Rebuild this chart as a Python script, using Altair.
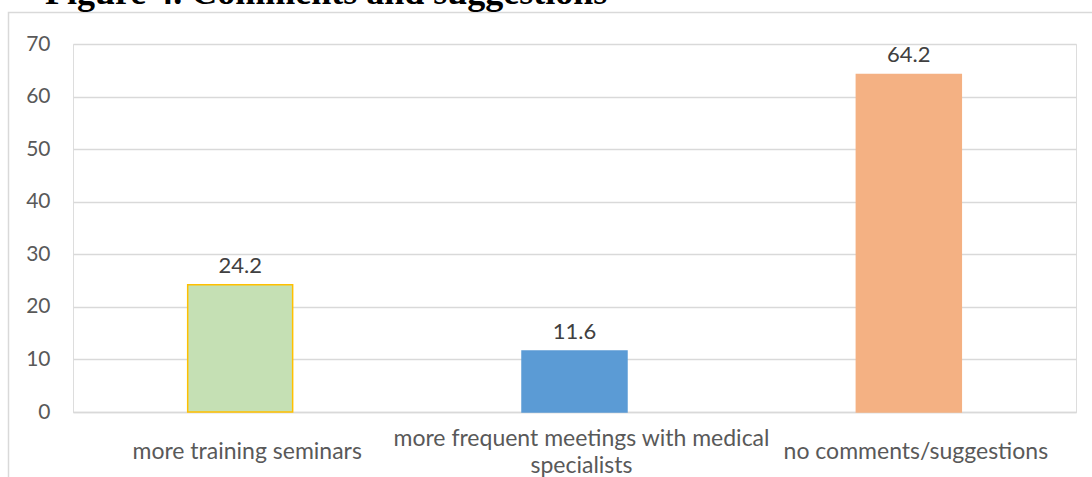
import altair as alt
import pandas as pd

# Survey responses: share of respondents (%) per type of comment
categories = [
    "more training seminars",
    "more frequent meetings with medical specialists",
    "no comments/suggestions",
]
values = [24.2, 11.6, 64.2]
fills = ["#C5E0B4", "#5B9BD5", "#F4B183"]
strokes = ["#FFC000", "#5B9BD5", "#F4B183"]
y_ticks = [0, 10, 20, 30, 40, 50, 60, 70]
title_text = "Figure 4. Comments and suggestions"

df = pd.DataFrame({"category": categories, "value": values,
                   "fill": fills, "stroke": strokes})

wrapped = "more frequent meetings with medical specialists"
label_expr = (f"datum.label == '{wrapped}' "
              "? ['more frequent meetings with medical', 'specialists'] "
              ": datum.label")

# The wrapped label starts higher so that every label block is centred
# on the same line.
x_enc = alt.X("category:N", sort=categories, title=None,
              scale=alt.Scale(paddingInner=0, paddingOuter=0),
              axis=alt.Axis(labelAngle=0, labelExpr=label_expr, labelFont="Lato",
                            labelFontSize=23, labelColor="#595959",
                            labelBaseline="middle", labelOffset=7,
                            labelPadding={"condition": {"test": f"datum.value == '{wrapped}'",
                                                        "value": 26},
                                          "value": 39.5},
                            labelLineHeight=27, labelLimit=0,
                            ticks=False, tickSize=0, domainColor="#D9D9D9",
                            domainWidth=1.5, grid=False))
y_enc = alt.Y("value:Q", title=None,
              scale=alt.Scale(domain=[0, 70], nice=False),
              axis=alt.Axis(values=y_ticks, labelFont="Lato", labelFontSize=21,
                            labelColor="#595959", labelPadding=23, ticks=False,
                            tickSize=0, domain=False, gridColor="#D9D9D9",
                            gridWidth=1.5))

bars = alt.Chart(df).mark_bar(width=alt.RelativeBandSize(0.314),
                              strokeWidth=1.5).encode(
    x=x_enc, y=y_enc,
    fill=alt.Fill("fill:N", scale=None),
    stroke=alt.Stroke("stroke:N", scale=None),
)

labels = alt.Chart(df).mark_text(baseline="bottom", dy=-7, font="Lato",
                                 fontSize=22, color="#404040").encode(
    x=alt.X("category:N", sort=categories),
    y="value:Q",
    text=alt.Text("value:Q", format=".1f"),
)

# Outer frame around the chart area
frame = alt.Chart(pd.DataFrame({"k": [0]})).mark_rect(
    fill=None, stroke="#D9D9D9", strokeWidth=1.5).encode(
    x=alt.value(-64.5), x2=alt.value(1040),
    y=alt.value(-31.5), y2=alt.value(120 + 368),
)

# Figure caption sitting just above the frame
caption = alt.Chart(pd.DataFrame({"t": [title_text]})).mark_text(
    align="left", baseline="alphabetic", font="Liberation Serif",
    fontSize=36, fontWeight="bold", color="#000000").encode(
    x=alt.value(-28), y=alt.value(-40), text="t:N",
)

chart = alt.layer(frame, bars, labels, caption).properties(
    width=1003, height=368,
    autosize=alt.AutoSizeParams(type="none"),
    padding={"left": 73, "top": 44, "right": 16, "bottom": 65},
).configure_view(stroke=None).configure(background="white")

chart.save("out.html", embed_options={"renderer": "svg", "actions": False})
